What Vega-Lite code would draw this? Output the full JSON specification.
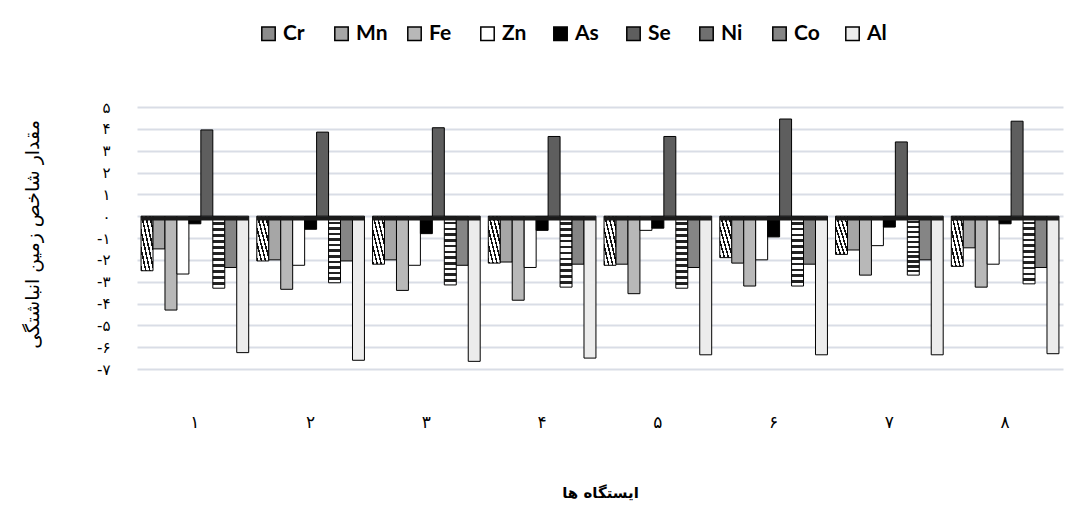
{
  "$schema": "https://vega.github.io/schema/vega-lite/v6.json",
  "width": 926,
  "height": 262,
  "autosize": {"type": "none"},
  "padding": {"left": 137, "top": 107, "right": 10, "bottom": 142},
  "background": "white",
  "config": {"view": {"stroke": null}, "font": "DejaVu Sans"},
  "datasets": {
    "indices": [
      {"station": "۱", "element": "Cr", "value": -2.5},
      {"station": "۱", "element": "Mn", "value": -1.5},
      {"station": "۱", "element": "Fe", "value": -4.3},
      {"station": "۱", "element": "Zn", "value": -2.65},
      {"station": "۱", "element": "As", "value": -0.35},
      {"station": "۱", "element": "Se", "value": 3.95},
      {"station": "۱", "element": "Ni", "value": -3.3},
      {"station": "۱", "element": "Co", "value": -2.35},
      {"station": "۱", "element": "Al", "value": -6.25},
      {"station": "۲", "element": "Cr", "value": -2.05},
      {"station": "۲", "element": "Mn", "value": -2.0},
      {"station": "۲", "element": "Fe", "value": -3.35},
      {"station": "۲", "element": "Zn", "value": -2.25},
      {"station": "۲", "element": "As", "value": -0.6},
      {"station": "۲", "element": "Se", "value": 3.85},
      {"station": "۲", "element": "Ni", "value": -3.05},
      {"station": "۲", "element": "Co", "value": -2.05},
      {"station": "۲", "element": "Al", "value": -6.6},
      {"station": "۳", "element": "Cr", "value": -2.2},
      {"station": "۳", "element": "Mn", "value": -2.0},
      {"station": "۳", "element": "Fe", "value": -3.4},
      {"station": "۳", "element": "Zn", "value": -2.25},
      {"station": "۳", "element": "As", "value": -0.8},
      {"station": "۳", "element": "Se", "value": 4.05},
      {"station": "۳", "element": "Ni", "value": -3.15},
      {"station": "۳", "element": "Co", "value": -2.25},
      {"station": "۳", "element": "Al", "value": -6.65},
      {"station": "۴", "element": "Cr", "value": -2.15},
      {"station": "۴", "element": "Mn", "value": -2.1},
      {"station": "۴", "element": "Fe", "value": -3.85},
      {"station": "۴", "element": "Zn", "value": -2.35},
      {"station": "۴", "element": "As", "value": -0.65},
      {"station": "۴", "element": "Se", "value": 3.65},
      {"station": "۴", "element": "Ni", "value": -3.25},
      {"station": "۴", "element": "Co", "value": -2.2},
      {"station": "۴", "element": "Al", "value": -6.5},
      {"station": "۵", "element": "Cr", "value": -2.25},
      {"station": "۵", "element": "Mn", "value": -2.2},
      {"station": "۵", "element": "Fe", "value": -3.55},
      {"station": "۵", "element": "Zn", "value": -0.65},
      {"station": "۵", "element": "As", "value": -0.55},
      {"station": "۵", "element": "Se", "value": 3.65},
      {"station": "۵", "element": "Ni", "value": -3.3},
      {"station": "۵", "element": "Co", "value": -2.35},
      {"station": "۵", "element": "Al", "value": -6.35},
      {"station": "۶", "element": "Cr", "value": -1.9},
      {"station": "۶", "element": "Mn", "value": -2.15},
      {"station": "۶", "element": "Fe", "value": -3.2},
      {"station": "۶", "element": "Zn", "value": -2.0},
      {"station": "۶", "element": "As", "value": -0.95},
      {"station": "۶", "element": "Se", "value": 4.45},
      {"station": "۶", "element": "Ni", "value": -3.2},
      {"station": "۶", "element": "Co", "value": -2.2},
      {"station": "۶", "element": "Al", "value": -6.35},
      {"station": "۷", "element": "Cr", "value": -1.75},
      {"station": "۷", "element": "Mn", "value": -1.55},
      {"station": "۷", "element": "Fe", "value": -2.7},
      {"station": "۷", "element": "Zn", "value": -1.35},
      {"station": "۷", "element": "As", "value": -0.5},
      {"station": "۷", "element": "Se", "value": 3.4},
      {"station": "۷", "element": "Ni", "value": -2.7},
      {"station": "۷", "element": "Co", "value": -2.0},
      {"station": "۷", "element": "Al", "value": -6.35},
      {"station": "۸", "element": "Cr", "value": -2.3},
      {"station": "۸", "element": "Mn", "value": -1.45},
      {"station": "۸", "element": "Fe", "value": -3.25},
      {"station": "۸", "element": "Zn", "value": -2.2},
      {"station": "۸", "element": "As", "value": -0.35},
      {"station": "۸", "element": "Se", "value": 4.35},
      {"station": "۸", "element": "Ni", "value": -3.1},
      {"station": "۸", "element": "Co", "value": -2.35},
      {"station": "۸", "element": "Al", "value": -6.3}
    ],
    "floor": [
      {"station": "۱"}, {"station": "۲"}, {"station": "۳"}, {"station": "۴"},
      {"station": "۵"}, {"station": "۶"}, {"station": "۷"}, {"station": "۸"}
    ]
  },
  "layer": [
    {
      "data": {"name": "indices"},
      "mark": {"type": "bar", "stroke": "black", "strokeWidth": 1},
      "encoding": {
        "x": {
          "field": "station",
          "type": "nominal",
          "sort": ["۱", "۲", "۳", "۴", "۵", "۶", "۷", "۸"],
          "scale": {"paddingInner": 0.07, "paddingOuter": 0.035},
          "axis": {
            "labelAngle": 0,
            "ticks": false,
            "domain": false,
            "labelPadding": 45,
            "labelFontSize": 17,
            "labelColor": "#000",
            "labelFont": "DejaVu Sans",
            "title": "ایستگاه ها",
            "titleFont": "DejaVu Sans",
            "titleFontSize": 15,
            "titleFontWeight": "bold",
            "titleColor": "#000",
            "titleY": 123,
            "titleBaseline": "middle"
          }
        },
        "xOffset": {
          "field": "element",
          "type": "nominal",
          "sort": ["Cr", "Mn", "Fe", "Zn", "As", "Se", "Ni", "Co", "Al"],
          "scale": {"paddingInner": 0, "paddingOuter": 0}
        },
        "y": {
          "field": "value",
          "type": "quantitative",
          "scale": {"domain": [-7, 5], "nice": false},
          "axis": {
            "values": [-7, -6, -5, -4, -3, -2, -1, 0, 1, 2, 3, 4, 5],
            "labelOverlap": false,
            "labelExpr": "datum.value == 5 ? '۵' : datum.value == 4 ? '۴' : datum.value == 3 ? '۳' : datum.value == 2 ? '۲' : datum.value == 1 ? '۱' : datum.value == 0 ? '۰' : datum.value == -1 ? '-۱' : datum.value == -2 ? '-۲' : datum.value == -3 ? '-۳' : datum.value == -4 ? '-۴' : datum.value == -5 ? '-۵' : datum.value == -6 ? '-۶' : '-۷'",
            "ticks": false,
            "domain": false,
            "grid": true,
            "gridColor": "#d9dde6",
            "gridWidth": 2,
            "labelPadding": 27,
            "labelFontSize": 15,
            "labelColor": "#000",
            "labelFont": "DejaVu Sans",
            "title": "مقدار شاخص زمین انباشتگی",
            "titleFont": "DejaVu Sans",
            "titleFontSize": 19,
            "titleFontWeight": "normal",
            "titleColor": "#000",
            "titleX": -105,
            "titleY": 127,
            "titleAlign": "center",
            "titleBaseline": "middle"
          }
        },
        "fill": {
          "field": "element",
          "type": "nominal",
          "sort": ["Cr", "Mn", "Fe", "Zn", "As", "Se", "Ni", "Co", "Al"],
          "scale": {
            "domain": ["Cr", "Mn", "Fe", "Zn", "As", "Se", "Ni", "Co", "Al"],
            "range": ["#8c8c8c", "#a6a6a6", "#b8b8b8", "#ffffff", "#000000", "#5e5e5e", "#707070", "#858585", "#ececec"]
          },
          "legend": {
            "orient": "none",
            "legendX": 121,
            "legendY": -84,
            "direction": "horizontal",
            "columns": 9,
            "gridAlign": "all",
            "columnPadding": 16,
            "symbolType": "square",
            "symbolSize": 180,
            "symbolStrokeColor": "black",
            "symbolStrokeWidth": 1.5,
            "labelFont": "Lato",
            "labelFontSize": 21,
            "labelFontWeight": "bold",
            "labelColor": "#000",
            "labelOffset": 4,
            "title": null
          },
          "condition": [
            {
              "test": "datum.element === 'Ni'",
              "value": {
                "gradient": "linear", "x1": 0, "y1": 0, "x2": 0, "y2": 1,
                "stops": [
                  {"offset": 0, "color": "#222"}, {"offset": 0.0375, "color": "#222"}, {"offset": 0.0375, "color": "#fff"}, {"offset": 0.0833, "color": "#fff"},
                  {"offset": 0.0833, "color": "#222"}, {"offset": 0.1208, "color": "#222"}, {"offset": 0.1208, "color": "#fff"}, {"offset": 0.1667, "color": "#fff"},
                  {"offset": 0.1667, "color": "#222"}, {"offset": 0.2042, "color": "#222"}, {"offset": 0.2042, "color": "#fff"}, {"offset": 0.25, "color": "#fff"},
                  {"offset": 0.25, "color": "#222"}, {"offset": 0.2875, "color": "#222"}, {"offset": 0.2875, "color": "#fff"}, {"offset": 0.3333, "color": "#fff"},
                  {"offset": 0.3333, "color": "#222"}, {"offset": 0.3708, "color": "#222"}, {"offset": 0.3708, "color": "#fff"}, {"offset": 0.4167, "color": "#fff"},
                  {"offset": 0.4167, "color": "#222"}, {"offset": 0.4542, "color": "#222"}, {"offset": 0.4542, "color": "#fff"}, {"offset": 0.5, "color": "#fff"},
                  {"offset": 0.5, "color": "#222"}, {"offset": 0.5375, "color": "#222"}, {"offset": 0.5375, "color": "#fff"}, {"offset": 0.5833, "color": "#fff"},
                  {"offset": 0.5833, "color": "#222"}, {"offset": 0.6208, "color": "#222"}, {"offset": 0.6208, "color": "#fff"}, {"offset": 0.6667, "color": "#fff"},
                  {"offset": 0.6667, "color": "#222"}, {"offset": 0.7042, "color": "#222"}, {"offset": 0.7042, "color": "#fff"}, {"offset": 0.75, "color": "#fff"},
                  {"offset": 0.75, "color": "#222"}, {"offset": 0.7875, "color": "#222"}, {"offset": 0.7875, "color": "#fff"}, {"offset": 0.8333, "color": "#fff"},
                  {"offset": 0.8333, "color": "#222"}, {"offset": 0.8708, "color": "#222"}, {"offset": 0.8708, "color": "#fff"}, {"offset": 0.9167, "color": "#fff"},
                  {"offset": 0.9167, "color": "#222"}, {"offset": 0.9542, "color": "#222"}, {"offset": 0.9542, "color": "#fff"}, {"offset": 1, "color": "#fff"}
                ]
              }
            },
            {
              "test": "datum.element === 'Cr'",
              "value": {
                "gradient": "linear", "x1": 0, "y1": 1, "x2": 1, "y2": 0,
                "stops": [
                  {"offset": 0, "color": "#111"}, {"offset": 0.0667, "color": "#111"}, {"offset": 0.0667, "color": "#fff"}, {"offset": 0.1667, "color": "#fff"},
                  {"offset": 0.1667, "color": "#111"}, {"offset": 0.2333, "color": "#111"}, {"offset": 0.2333, "color": "#fff"}, {"offset": 0.3333, "color": "#fff"},
                  {"offset": 0.3333, "color": "#111"}, {"offset": 0.4, "color": "#111"}, {"offset": 0.4, "color": "#fff"}, {"offset": 0.5, "color": "#fff"},
                  {"offset": 0.5, "color": "#111"}, {"offset": 0.5667, "color": "#111"}, {"offset": 0.5667, "color": "#fff"}, {"offset": 0.6667, "color": "#fff"},
                  {"offset": 0.6667, "color": "#111"}, {"offset": 0.7333, "color": "#111"}, {"offset": 0.7333, "color": "#fff"}, {"offset": 0.8333, "color": "#fff"},
                  {"offset": 0.8333, "color": "#111"}, {"offset": 0.9, "color": "#111"}, {"offset": 0.9, "color": "#fff"}, {"offset": 1, "color": "#fff"}
                ]
              }
            }
          ]
        }
      }
    },
    {
      "data": {"name": "floor"},
      "mark": {"type": "bar", "color": "#1a1a1a"},
      "encoding": {
        "x": {
          "field": "station",
          "type": "nominal",
          "sort": ["۱", "۲", "۳", "۴", "۵", "۶", "۷", "۸"],
          "axis": {
            "labelAngle": 0,
            "ticks": false,
            "domain": false,
            "labelPadding": 45,
            "labelFontSize": 17,
            "labelColor": "#000",
            "labelFont": "DejaVu Sans",
            "title": "ایستگاه ها",
            "titleFont": "DejaVu Sans",
            "titleFontSize": 15,
            "titleFontWeight": "bold",
            "titleColor": "#000",
            "titleY": 123,
            "titleBaseline": "middle"
          }
        },
        "y": {
          "datum": 0,
          "type": "quantitative",
          "axis": {
            "values": [-7, -6, -5, -4, -3, -2, -1, 0, 1, 2, 3, 4, 5],
            "labelOverlap": false,
            "labelExpr": "datum.value == 5 ? '۵' : datum.value == 4 ? '۴' : datum.value == 3 ? '۳' : datum.value == 2 ? '۲' : datum.value == 1 ? '۱' : datum.value == 0 ? '۰' : datum.value == -1 ? '-۱' : datum.value == -2 ? '-۲' : datum.value == -3 ? '-۳' : datum.value == -4 ? '-۴' : datum.value == -5 ? '-۵' : datum.value == -6 ? '-۶' : '-۷'",
            "ticks": false,
            "domain": false,
            "grid": true,
            "gridColor": "#d9dde6",
            "gridWidth": 2,
            "labelPadding": 27,
            "labelFontSize": 15,
            "labelColor": "#000",
            "labelFont": "DejaVu Sans",
            "title": "مقدار شاخص زمین انباشتگی",
            "titleFont": "DejaVu Sans",
            "titleFontSize": 19,
            "titleFontWeight": "normal",
            "titleColor": "#000",
            "titleX": -105,
            "titleY": 127,
            "titleAlign": "center",
            "titleBaseline": "middle"
          }
        },
        "y2": {"datum": -0.2}
      }
    }
  ]
}
